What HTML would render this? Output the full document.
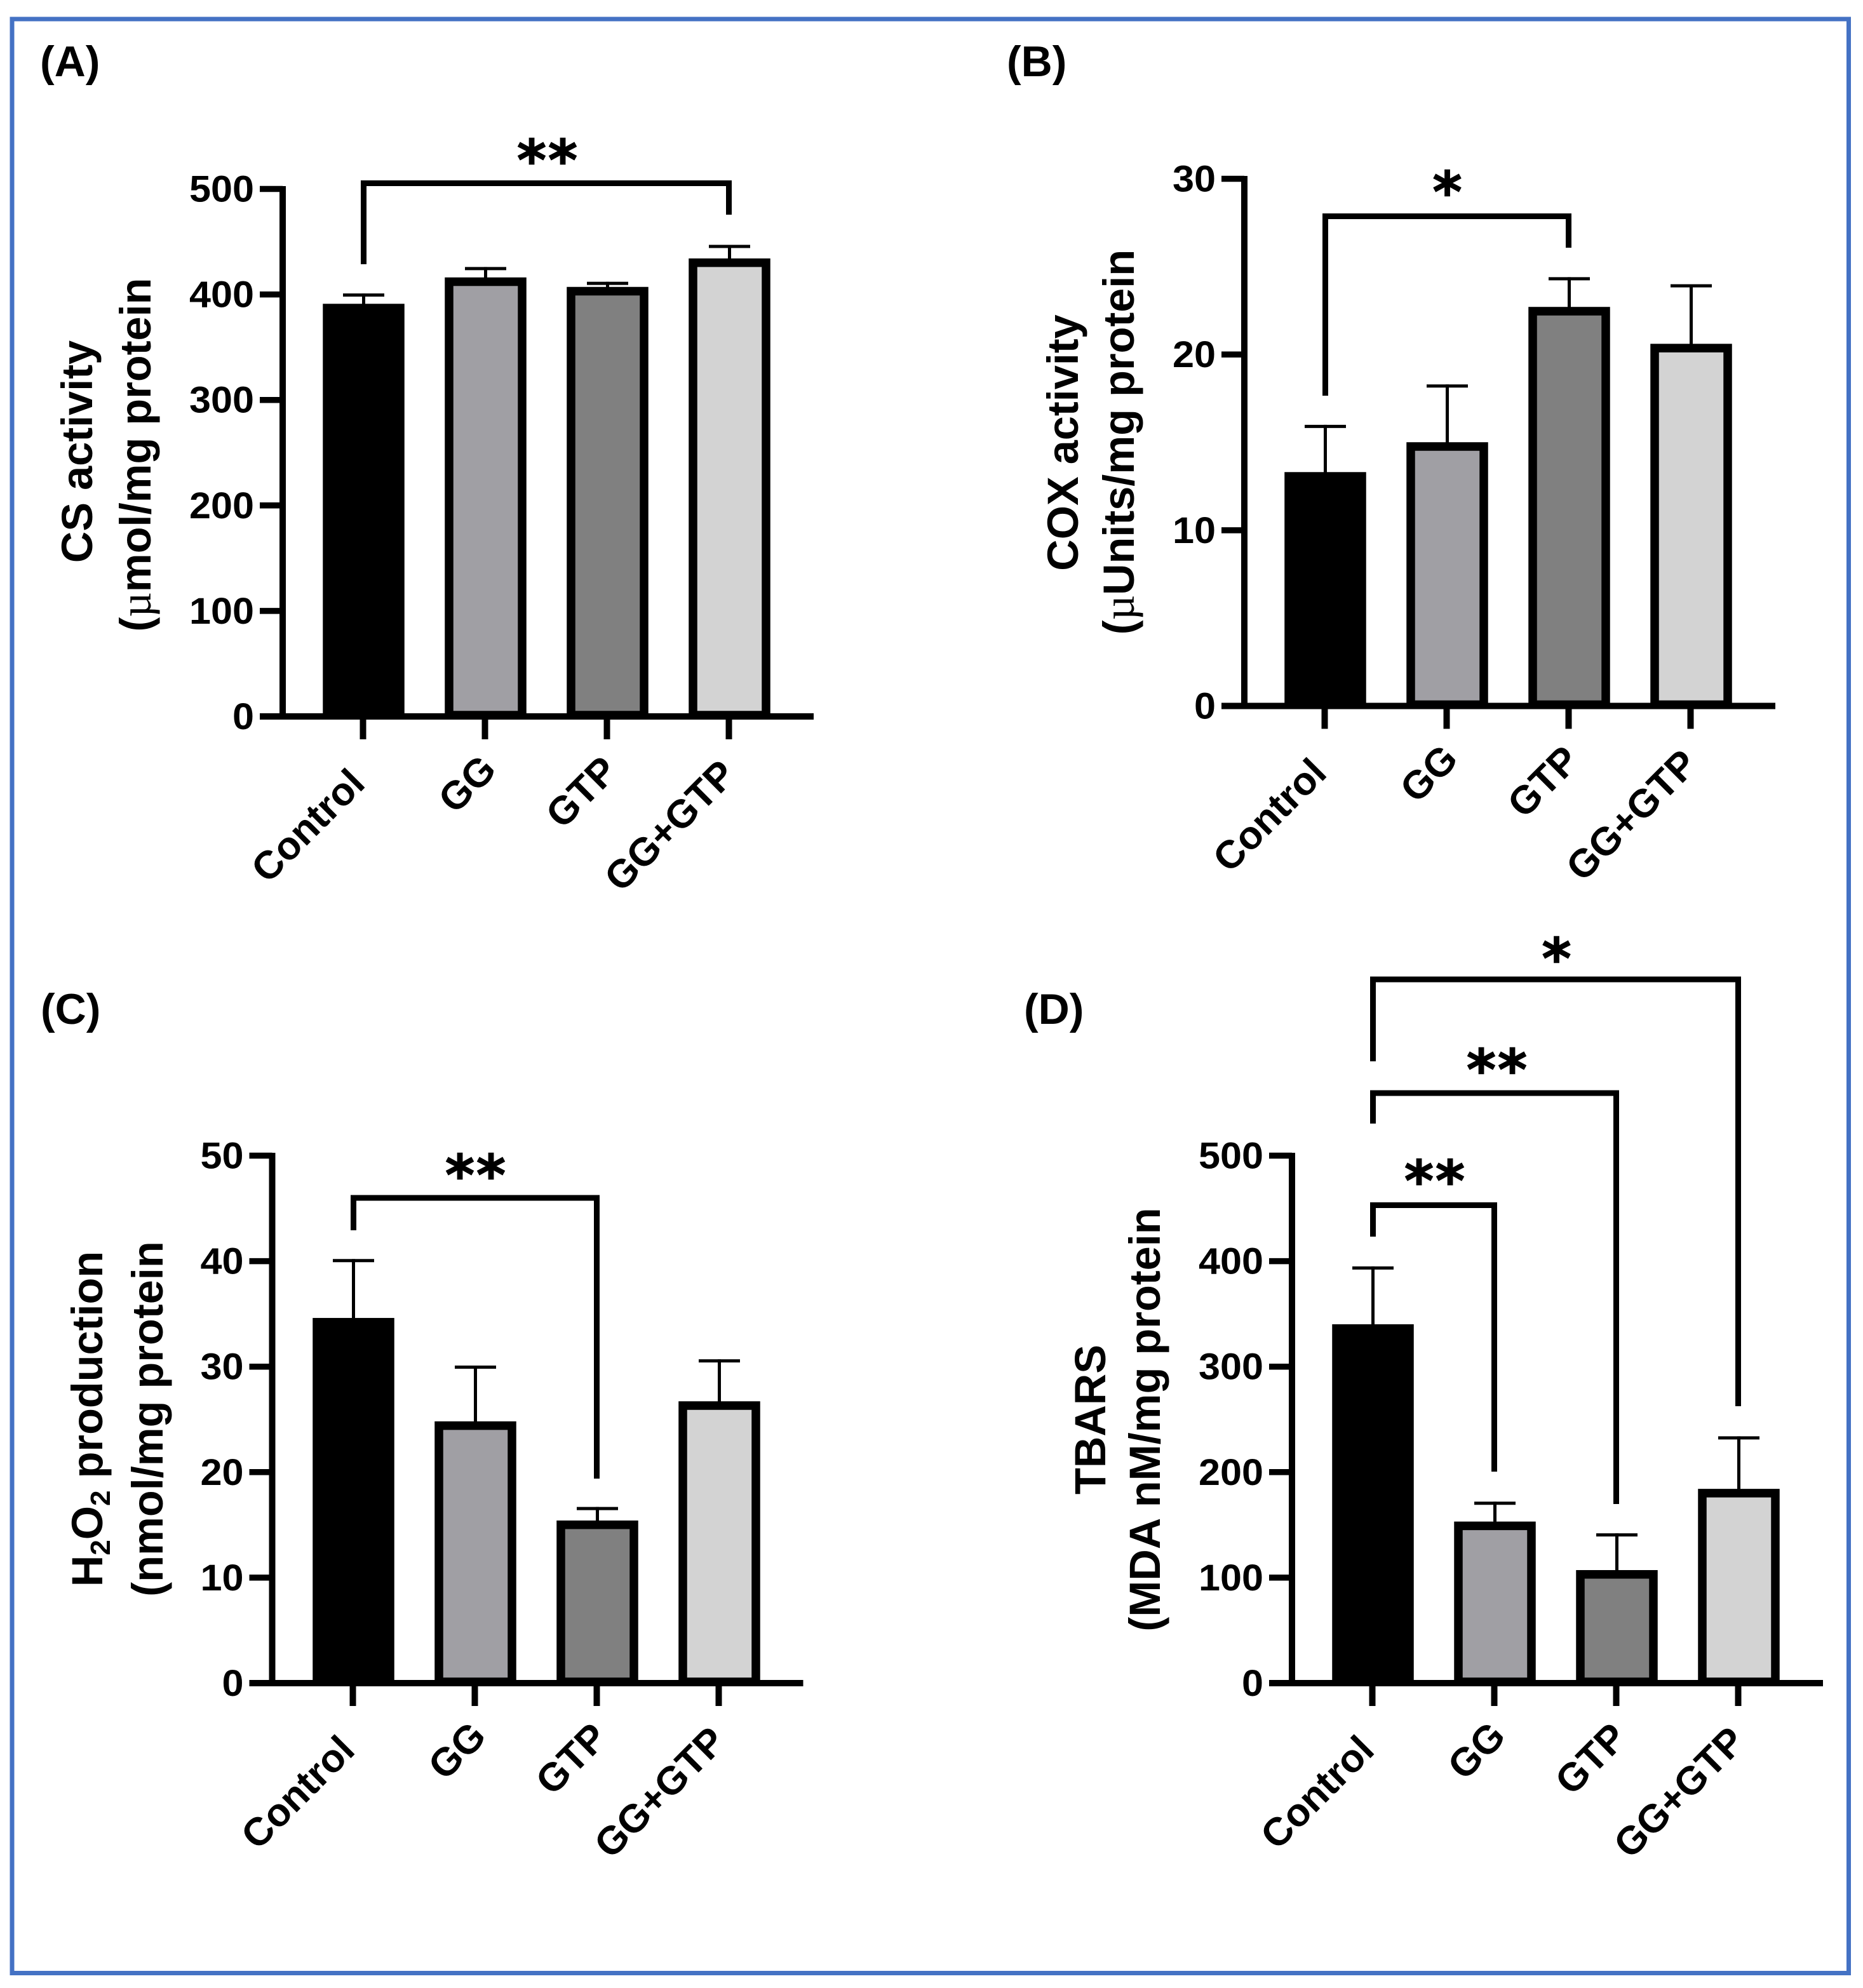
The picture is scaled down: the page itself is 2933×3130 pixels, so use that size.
<!DOCTYPE html>
<html lang="en">
<head>
<meta charset="utf-8">
<title>Enzyme activity bar charts</title>
<style>
html,body{margin:0;padding:0;background:#fff;}
svg{display:block;}
text{font-family:"Liberation Sans",Arial,sans-serif;font-weight:700;fill:#000;}
.panel-letter{font-size:68px;}
.ytitle{font-size:68.5px;text-anchor:middle;}
text.star{font-family:"DejaVu Sans",sans-serif;font-size:88px;letter-spacing:3px;text-anchor:middle;stroke:#000;stroke-width:1.5px;}
.mu{font-family:"Liberation Serif",serif;font-weight:400;}
</style>
</head>
<body>
<svg id="figure" xmlns="http://www.w3.org/2000/svg" width="2933" height="3130" viewBox="0 0 2933 3130">
  <rect x="0" y="0" width="2933" height="3130" fill="#fff"/>
  <rect x="19" y="30" width="2891.5" height="3076.5" fill="none" stroke="#4472c4" stroke-width="7"/>

  <text class="panel-letter" x="63" y="120">(A)</text>
  <text class="panel-letter" x="1585" y="120">(B)</text>
  <text class="panel-letter" x="64" y="1612">(C)</text>
  <text class="panel-letter" x="1612" y="1612">(D)</text>

  <text class="ytitle" transform="translate(145,711) rotate(-90)">CS activity</text>
  <text class="ytitle" transform="translate(237,716) rotate(-90)">(<tspan class="mu">µ</tspan>mol/mg protein</text>

  <text class="ytitle" transform="translate(1697,697) rotate(-90)">COX activity</text>
  <text class="ytitle" transform="translate(1785,696) rotate(-90)">(<tspan class="mu">µ</tspan>Units/mg protein</text>

  <text class="ytitle" transform="translate(161,2234) rotate(-90)">H<tspan font-size="44" dy="12">2</tspan><tspan dy="-12">O</tspan><tspan font-size="44" dy="12">2</tspan><tspan dy="-12"> production</tspan></text>
  <text class="ytitle" transform="translate(256,2234) rotate(-90)">(nmol/mg protein</text>

  <text class="ytitle" transform="translate(1740,2235) rotate(-90)">TBARS</text>
  <text class="ytitle" transform="translate(1826,2235) rotate(-90)">(MDA nM/mg protein</text>

  <text class="star" x="863" y="283">**</text>
  <text class="star" x="2280" y="333">*</text>
  <text class="star" x="750" y="1881">**</text>
  <text class="star" x="2260" y="1890">**</text>
  <text class="star" x="2358" y="1715">**</text>
  <text class="star" x="2452" y="1540">*</text>
</svg>

<script>
const categories = ['Control', 'GG', 'GTP', 'GG+GTP'];

const ticksA = [0, 100, 200, 300, 400, 500];
const meansA = [391, 416, 407, 434];
const upperA = [401, 426, 412, 447];

const ticksB = [0, 10, 20, 30];
const meansB = [13.3, 15.0, 22.7, 20.6];
const upperB = [16.0, 18.3, 24.4, 24.0];

const ticksC = [0, 10, 20, 30, 40, 50];
const meansC = [34.6, 24.8, 15.4, 26.7];
const upperC = [40.2, 30.1, 16.7, 30.7];

const ticksD = [0, 100, 200, 300, 400, 500];
const meansD = [340, 153, 107, 184];
const upperD = [395, 172, 142, 234];

const barFills = ['#000000', '#a09fa4', '#808080', '#d3d3d3'];

const NS = 'http://www.w3.org/2000/svg';
const svg = document.getElementById('figure');

function make(tag, attrs) {
  const el = document.createElementNS(NS, tag);
  for (const k in attrs) el.setAttribute(k, attrs[k]);
  svg.appendChild(el);
  return el;
}

function labelShift(i) {
  if (i === 1) return [15, -22];
  if (i === 2) return [14, -20];
  if (i === 3) return [8, -14];
  return [0, 0];
}

function drawPanel(id, p, ticks, means, upper, brackets) {
  const yMax = ticks[ticks.length - 1];
  const yScale = v => p.y0 - (v / yMax) * (p.y0 - p.yTop);
  const xScale = i => p.x0 + i * 192;

  means.forEach((m, i) => {
    const cx = xScale(i);
    const stem = make('line', {x1: cx, x2: cx, y1: yScale(m), y2: yScale(upper[i]), stroke: '#000', 'stroke-width': 5});
    
    
    const cap = make('line', {x1: cx - 32.5, x2: cx + 32.5, y1: yScale(upper[i]) + 2.5, y2: yScale(upper[i]) + 2.5, stroke: '#000', 'stroke-width': 5});
    
    
    const top = yScale(m);
    const bar = make('rect', {x: cx - 64.5 + 7, y: top + 6.5, width: 129 - 14, height: p.y0 - top - 8.5, fill: barFills[i], stroke: '#000', 'stroke-width': 13.5});
    
    
  });

  const yAxis = make('line', {x1: p.axisX, x2: p.axisX, y1: p.yTop - 4.5, y2: p.y0 + 5, stroke: '#000', 'stroke-width': 10});
  
  
  const xAxis = make('line', {x1: p.axisX - 36, x2: p.axisX - 36 + 872, y1: p.y0, y2: p.y0, stroke: '#000', 'stroke-width': 10});
  
  

  ticks.forEach(t => {
    const y = yScale(t);
    const tick = make('line', {x1: p.axisX - 36, x2: p.axisX, y1: y, y2: y, stroke: '#000', 'stroke-width': 9.5});
    
    
    const label = make('text', {x: p.axisX - 45, y: y + 20, 'text-anchor': 'end', 'font-size': 58, textLength: String(t).length * 34, lengthAdjust: 'spacingAndGlyphs'});
    label.textContent = t;
    
    
  });

  categories.forEach((c, i) => {
    const cx = xScale(i) - 1;
    const tick = make('line', {x1: cx, x2: cx, y1: p.y0, y2: p.y0 + 36, stroke: '#000', 'stroke-width': 10});
    
    
    const shift = labelShift(i);
    const label = make('text', {'text-anchor': 'end', 'font-size': 62, transform: 'translate(' + (cx + 6 + shift[0]) + ',' + (p.y0 + 109 + shift[1]) + ') rotate(-45)'});
    label.textContent = c;
    
    
  });

  brackets.forEach(b => {
    const x1 = xScale(0);
    const x2 = xScale(b.to) - 1;
    const path = make('path', {d: 'M' + x1 + ' ' + b.left + 'V' + b.y + 'H' + x2 + 'V' + b.right, fill: 'none', stroke: '#000', 'stroke-width': 9});
    
    
  });
}

drawPanel('a', {axisX: 445, y0: 1128, yTop: 297.5, x0: 572.5}, ticksA, meansA, upperA,
  [{to: 3, y: 288.5, left: 416, right: 338}]);
drawPanel('b', {axisX: 1959, y0: 1111.5, yTop: 281.5, x0: 2086.5}, ticksB, meansB, upperB,
  [{to: 2, y: 340.5, left: 623, right: 390}]);
drawPanel('c', {axisX: 428.5, y0: 2650, yTop: 1819.5, x0: 556.5}, ticksC, meansC, upperC,
  [{to: 2, y: 1886, left: 1937, right: 2328}]);
drawPanel('d', {axisX: 2034, y0: 2650, yTop: 1819.5, x0: 2161.5}, ticksD, meansD, upperD,
  [{to: 1, y: 1897.5, left: 1947, right: 2317},
   {to: 2, y: 1721, left: 1769, right: 2368},
   {to: 3, y: 1542, left: 1671, right: 2214}]);
</script>
</body>
</html>
